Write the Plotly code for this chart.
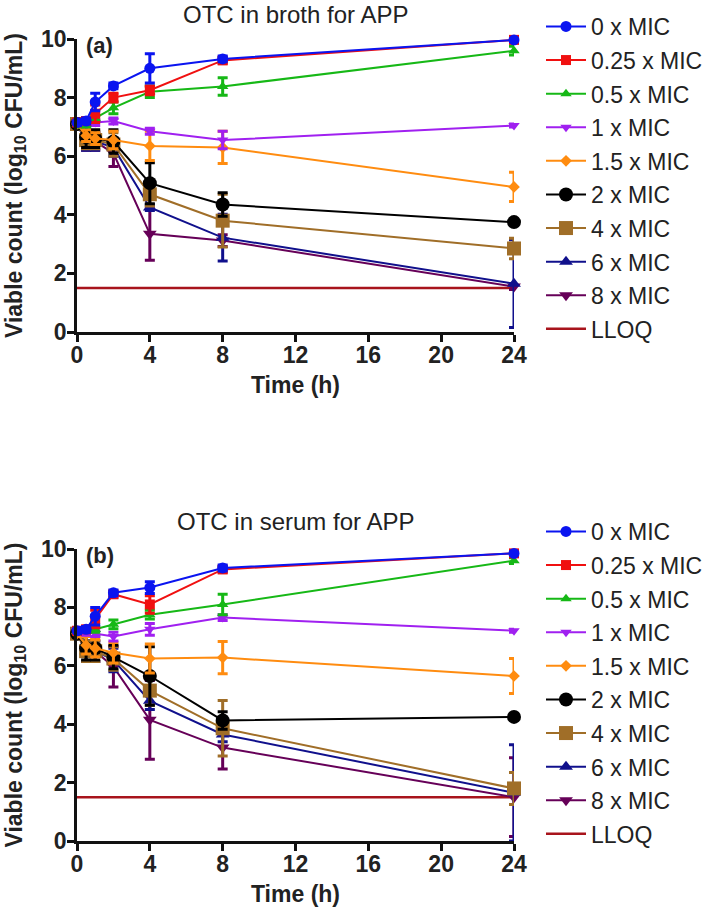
import plotly.graph_objects as go

times = [0, 0.5, 1, 2, 4, 8, 24]
series_names = ["0 x MIC", "0.25 x MIC", "0.5 x MIC", "1 x MIC", "1.5 x MIC",
                "2 x MIC", "4 x MIC", "6 x MIC", "8 x MIC"]

# Panel (a): OTC in broth
broth_0 = [7.15, 7.2, 7.85, 8.4, 9.0, 9.32, 9.97]
broth_025 = [7.15, 7.2, 7.45, 8.0, 8.25, 9.27, 9.97]
broth_05 = [7.1, 7.1, 7.3, 7.65, 8.2, 8.38, 9.6]
broth_1 = [7.15, 7.1, 7.15, 7.2, 6.85, 6.55, 7.05]
broth_15 = [7.1, 6.7, 6.6, 6.55, 6.35, 6.3, 4.95]
broth_2 = [7.1, 6.65, 6.6, 6.5, 5.08, 4.35, 3.75]
broth_4 = [7.1, 6.55, 6.55, 6.4, 4.7, 3.8, 2.85]
broth_6 = [7.1, 6.5, 6.5, 6.3, 4.25, 3.22, 1.65]
broth_8 = [7.1, 6.5, 6.5, 6.1, 3.35, 3.12, 1.55]
broth_err_0 = [0.1, 0.1, 0.3, 0.1, 0.5, 0.1, 0.05]
broth_err_025 = [0.1, 0.1, 0.3, 0.15, 0.15, 0.1, 0.05]
broth_err_05 = [0.1, 0.1, 0.1, 0.2, 0.2, 0.3, 0.15]
broth_err_1 = [0.05, 0.05, 0.1, 0.1, 0.1, 0.3, 0.05]
broth_err_15 = [0.1, 0.2, 0.2, 0.3, 0.5, 0.55, 0.5]
broth_err_2 = [0.05, 0.35, 0.3, 0.4, 0.7, 0.4, 0.05]
broth_err_4 = [0.05, 0.3, 0.3, 0.4, 0.4, 0.9, 0.35]
broth_err_6 = [0.05, 0.3, 0.3, 0.3, 0.1, 0.8, 1.5]
broth_err_8 = [0.05, 0.3, 0.3, 0.45, 0.9, 0.2, 0.1]

# Panel (b): OTC in serum
serum_0 = [7.2, 7.25, 7.7, 8.5, 8.68, 9.35, 9.85]
serum_025 = [7.2, 7.25, 7.6, 8.45, 8.1, 9.3, 9.85]
serum_05 = [7.2, 7.2, 7.25, 7.42, 7.75, 8.1, 9.6]
serum_1 = [7.2, 7.15, 7.1, 7.0, 7.25, 7.65, 7.2]
serum_15 = [7.1, 6.7, 6.6, 6.45, 6.25, 6.28, 5.65]
serum_2 = [7.1, 6.6, 6.6, 6.3, 5.65, 4.13, 4.25]
serum_4 = [7.1, 6.5, 6.5, 6.25, 5.15, 3.86, 1.8]
serum_6 = [7.1, 6.5, 6.5, 6.2, 4.8, 3.65, 1.65]
serum_8 = [7.1, 6.5, 6.5, 5.97, 4.15, 3.2, 1.5]
serum_err_0 = [0.1, 0.1, 0.3, 0.1, 0.2, 0.1, 0.05]
serum_err_025 = [0.1, 0.1, 0.3, 0.1, 0.3, 0.1, 0.05]
serum_err_05 = [0.05, 0.05, 0.1, 0.15, 0.15, 0.35, 0.1]
serum_err_1 = [0.05, 0.1, 0.1, 0.15, 0.2, 0.1, 0.05]
serum_err_15 = [0.1, 0.3, 0.3, 0.35, 0.5, 0.55, 0.6]
serum_err_2 = [0.05, 0.4, 0.4, 0.4, 1.0, 0.3, 0.05]
serum_err_4 = [0.05, 0.35, 0.35, 0.4, 0.5, 0.95, 0.55]
serum_err_6 = [0.05, 0.35, 0.35, 0.4, 0.3, 0.25, 1.65]
serum_err_8 = [0.05, 0.35, 0.35, 0.7, 1.35, 0.73, 1.35]

lloq_x = [0, 24]
lloq_y = [1.5, 1.5]

x_ticks = [0, 4, 8, 12, 16, 20, 24]
y_ticks = [0, 2, 4, 6, 8, 10]

colors = ["#0a14f0", "#f01010", "#16b816", "#a020f0", "#ff8c10",
          "#000000", "#a06e28", "#10108c", "#660058"]
symbols = ["circle", "square", "triangle-up", "triangle-down", "diamond",
           "circle", "square", "triangle-up", "triangle-down"]
sizes = [11, 10, 10, 10, 9, 14, 14, 12, 12]
lloq_color = "#a8141c"

broth = [broth_0, broth_025, broth_05, broth_1, broth_15, broth_2, broth_4, broth_6, broth_8]
broth_err = [broth_err_0, broth_err_025, broth_err_05, broth_err_1, broth_err_15,
             broth_err_2, broth_err_4, broth_err_6, broth_err_8]
serum = [serum_0, serum_025, serum_05, serum_1, serum_15, serum_2, serum_4, serum_6, serum_8]
serum_err = [serum_err_0, serum_err_025, serum_err_05, serum_err_1, serum_err_15,
             serum_err_2, serum_err_4, serum_err_6, serum_err_8]

fig = go.Figure()

panels = [("x", "y", "legend", broth, broth_err), ("x2", "y2", "legend2", serum, serum_err)]
for xa, ya, lg, data, errs in panels:
    fig.add_trace(go.Scatter(
        x=lloq_x, y=lloq_y, mode="lines", name="LLOQ",
        line=dict(color=lloq_color, width=2.5),
        xaxis=xa, yaxis=ya, legend=lg, legendrank=10, legendgroup=lg + "LLOQ",
        cliponaxis=False))
    for i in reversed(range(len(series_names))):
        fig.add_trace(go.Scatter(
            x=times, y=data[i], mode="lines+markers", name=series_names[i],
            line=dict(color=colors[i], width=2),
            marker=dict(color=colors[i], symbol=symbols[i], size=sizes[i],
                        line=dict(width=0)),
            error_y=dict(type="data", array=errs[i], color=colors[i],
                         thickness=3, width=5),
            xaxis=xa, yaxis=ya, legend=lg, legendrank=i + 1,
            legendgroup=lg + series_names[i], cliponaxis=False))

# the page body margin is removed (see post_script), so screen pixels == figure pixels
W, H = 709, 911


def px(x):
    return x / W


def py(y):
    return 1 - y / H


FONT = "Arial, Liberation Sans, sans-serif"
tickfont = dict(family=FONT, size=23, color="#222222")
axis_common = dict(showline=True, linecolor="#111111", linewidth=2.5, ticks="outside",
                   ticklen=7, tickwidth=2.5, tickcolor="#111111", showgrid=False,
                   zeroline=False, tickfont=tickfont, automargin=False)

ytitle = dict(text="<b>Viable count (log<sub>10</sub> CFU/mL)</b>",
              font=dict(family=FONT, size=23, color="#222222"), standoff=13)
xtitle = dict(text="<b>Time (h)</b>",
              font=dict(family=FONT, size=23, color="#222222"), standoff=10)

xdom = [px(77), px(514)]
legend_common = dict(xanchor="left", yanchor="top",
                     font=dict(size=23, family=FONT, color="#222222"),
                     itemwidth=40, tracegroupgap=0.7, traceorder="grouped",
                     bgcolor="rgba(0,0,0,0)")
xaxis_extra = dict(ticklabelstandoff=-6)
yaxis_extra = dict(ticklabelstandoff=-4)
fig.update_layout(
    width=W, height=H, margin=dict(l=0, r=0, t=0, b=0, autoexpand=False),
    paper_bgcolor="white", plot_bgcolor="white",
    font=dict(family=FONT, color="#222222"),
    xaxis=dict(domain=xdom, range=[0, 24], tickvals=x_ticks, anchor="y",
               ticktext=[f"<b>{v}</b>" for v in x_ticks], title=xtitle,
               **axis_common, **xaxis_extra),
    yaxis=dict(domain=[py(332), py(39)], range=[0, 10], tickvals=y_ticks, anchor="x",
               ticktext=[f"<b>{v}</b>" for v in y_ticks], title=ytitle,
               **axis_common, **yaxis_extra),
    xaxis2=dict(domain=xdom, range=[0, 24], tickvals=x_ticks, anchor="y2",
                ticktext=[f"<b>{v}</b>" for v in x_ticks], title=xtitle,
                **axis_common, **xaxis_extra),
    yaxis2=dict(domain=[py(841), py(549)], range=[0, 10], tickvals=y_ticks, anchor="x2",
                ticktext=[f"<b>{v}</b>" for v in y_ticks], title=ytitle,
                **axis_common, **yaxis_extra),
    legend=dict(x=px(541), y=py(5), **legend_common),
    legend2=dict(x=px(541), y=py(510), **legend_common),
    annotations=[
        dict(text="OTC in broth for APP", x=px(295), y=py(14), xref="paper", yref="paper",
             xanchor="center", yanchor="middle", showarrow=False,
             font=dict(size=24, color="#222222")),
        dict(text="OTC in serum for APP", x=px(295), y=py(521), xref="paper", yref="paper",
             xanchor="center", yanchor="middle", showarrow=False,
             font=dict(size=24, color="#222222")),
        dict(text="<b>(a)</b>", x=px(84), y=py(46), xref="paper", yref="paper",
             xanchor="left", yanchor="middle", showarrow=False,
             font=dict(size=22, color="#222222")),
        dict(text="<b>(b)</b>", x=px(84), y=py(555), xref="paper", yref="paper",
             xanchor="left", yanchor="middle", showarrow=False,
             font=dict(size=22, color="#222222")),
    ],
)

fig.write_html("out.html", config={"displayModeBar": False},
               post_script="document.body.style.margin='0';")
